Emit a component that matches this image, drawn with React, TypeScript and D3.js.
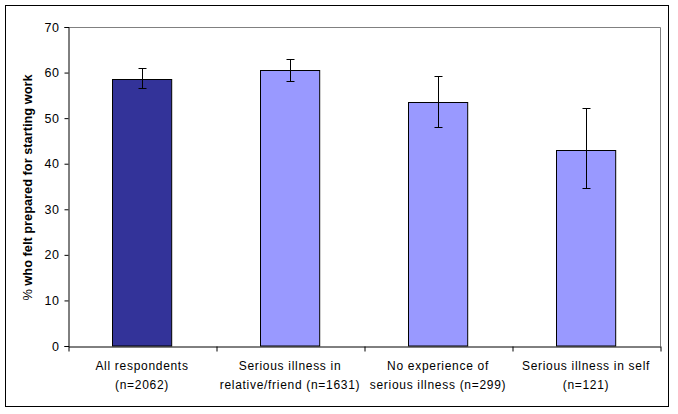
import { useEffect, useRef } from 'react';
import * as d3 from 'd3';

const categories = [
  ['All respondents', '(n=2062)'],
  ['Serious illness in', 'relative/friend (n=1631)'],
  ['No experience of', 'serious illness (n=299)'],
  ['Serious illness in self', '(n=121)'],
];
const values = [58.6, 60.6, 53.6, 43.0];
const errLow = [56.6, 58.2, 48.1, 34.7];
const errHigh = [61.0, 62.9, 59.2, 52.2];
const barColors = ['#333399', '#9999FF', '#9999FF', '#9999FF'];
const yTicks = [0, 10, 20, 30, 40, 50, 60, 70];

const W = 678;
const H = 414;

const App = () => {
  const ref = useRef<SVGSVGElement>(null);

  useEffect(() => {
    if (!ref.current) return;
    const svg = d3.select(ref.current);
    svg.selectAll('*').remove();

    const left = 68;
    const right = 660;
    const top = 27;
    const bottom = 346;
    const font = 'Arial, "Liberation Sans", sans-serif';

    // chart frame
    svg
      .append('rect')
      .attr('x', 5.5)
      .attr('y', 5.5)
      .attr('width', 663)
      .attr('height', 401)
      .attr('fill', '#fff')
      .attr('stroke', '#000')
      .attr('stroke-width', 1);

    const idx = categories.map((_, i) => String(i));
    const x = d3.scaleBand().domain(idx).range([left, right]).paddingInner(0).paddingOuter(0);
    const y = d3.scaleLinear().domain([0, 70]).range([bottom, top]);

    // plot area border (top and right in grey)
    svg
      .append('path')
      .attr('d', `M${left},${top + 0.5}H${right + 0.5}V${bottom}`)
      .attr('fill', 'none')
      .attr('stroke', '#808080');

    const barW = x.bandwidth() * 0.4;

    svg
      .selectAll('.bar')
      .data(values)
      .enter()
      .append('rect')
      .attr('class', 'bar')
      .attr('x', (_, i) => Math.round((x(String(i)) || 0) + (x.bandwidth() - barW) / 2) + 0.5)
      .attr('y', (d) => Math.round(y(d)) + 0.5)
      .attr('width', barW)
      .attr('height', (d) => bottom - Math.round(y(d)) - 0.5)
      .attr('fill', (_, i) => barColors[i])
      .attr('stroke', '#000')
      .attr('stroke-width', 1);

    // error bars
    const eb = svg.append('g').attr('stroke', '#000').attr('stroke-width', 1);
    values.forEach((_, i) => {
      const cx = Math.round((x(String(i)) || 0) + x.bandwidth() / 2) + 0.5;
      const y0 = Math.round(y(errLow[i])) + 0.5;
      const y1 = Math.round(y(errHigh[i])) + 0.5;
      eb.append('line').attr('x1', cx).attr('x2', cx).attr('y1', y0).attr('y2', y1);
      eb.append('line').attr('x1', cx - 4).attr('x2', cx + 4).attr('y1', y0).attr('y2', y0);
      eb.append('line').attr('x1', cx - 4).attr('x2', cx + 4).attr('y1', y1).attr('y2', y1);
    });

    // y axis
    const yAxis = svg
      .append('g')
      .attr('transform', `translate(${left + 0.5},0)`)
      .call(d3.axisLeft(y).tickValues(yTicks).tickSize(4).tickPadding(5));
    yAxis.select('.domain').attr('stroke', '#000');
    yAxis
      .selectAll('text')
      .attr('font-family', font)
      .attr('font-size', '12.5px')
      .attr('letter-spacing', '0.6px')
      .attr('fill', '#000');

    // x axis
    const xAxis = svg
      .append('g')
      .attr('transform', `translate(0,${bottom + 0.5})`)
      .call(
        d3
          .axisBottom(d3.scaleLinear().domain([0, 4]).range([left + 0.5, right + 0.5]))
          .tickValues([0, 1, 2, 3, 4])
          .tickSize(5)
          .tickSizeOuter(0)
          .tickFormat(() => '')
      );
    xAxis.select('.domain').attr('stroke', '#000');

    const labels = svg
      .append('g')
      .attr('font-family', font)
      .attr('font-size', '12px')
      .attr('letter-spacing', '0.7px')
      .attr('text-anchor', 'middle');
    categories.forEach((lines, i) => {
      const cx = (x(String(i)) || 0) + x.bandwidth() / 2;
      lines.forEach((t, j) => {
        labels
          .append('text')
          .attr('x', cx)
          .attr('y', 370 + j * 18.5)
          .text(t);
      });
    });

    // y title
    svg
      .append('text')
      .attr('transform', `translate(32,${(top + bottom) / 2 + 1}) rotate(-90)`)
      .attr('text-anchor', 'middle')
      .attr('font-family', font)
      .attr('font-size', '12.8px')
      .attr('font-weight', 'bold')
      .call((t) => {
        t.append('tspan').attr('font-weight', 'normal').text('%  ');
        t.append('tspan').text('who felt prepared for starting work');
      });
  }, []);

  return (
    <svg
      ref={ref}
      width={W}
      height={H}
      style={{ position: 'absolute', left: 0, top: 0, background: '#fff' }}
    />
  );
};

export default App;
